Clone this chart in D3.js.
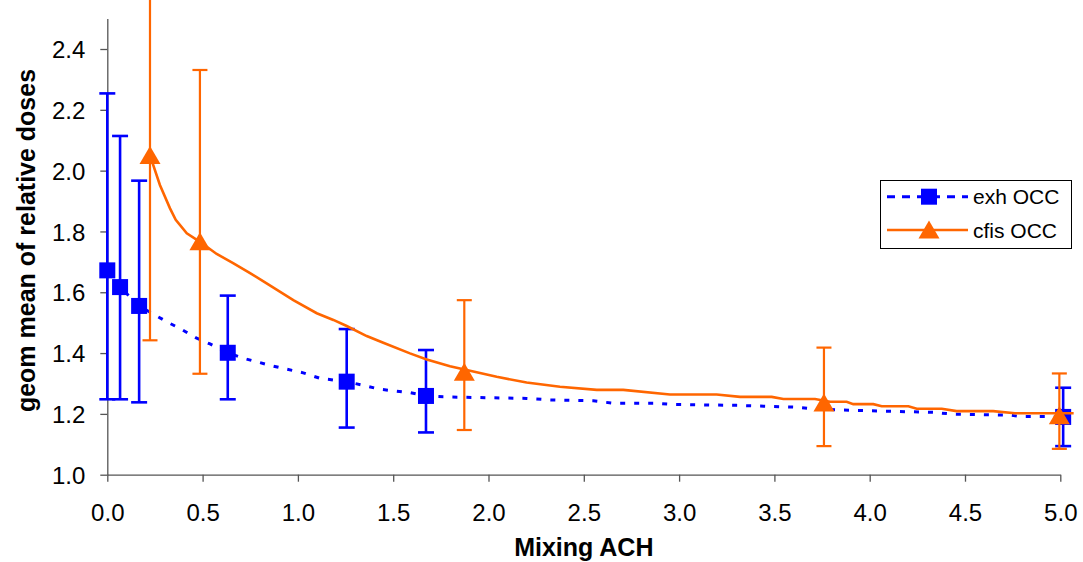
<!DOCTYPE html>
<html>
<head>
<meta charset="utf-8">
<script src="https://cdn.jsdelivr.net/npm/d3@7/dist/d3.min.js"></script>
<style>
  html, body { margin: 0; padding: 0; background: #fff; }
  svg { display: block; font-family: "Liberation Sans", Arial, sans-serif; }
</style>
</head>
<body>
<svg id="chart" width="1083" height="562"></svg>
<script>
// ---- data ----
const xTicks = [0.0, 0.5, 1.0, 1.5, 2.0, 2.5, 3.0, 3.5, 4.0, 4.5, 5.0];
const yTicks = [1.0, 1.2, 1.4, 1.6, 1.8, 2.0, 2.2, 2.4];
const seriesNames = ["exh OCC", "cfis OCC"];

// exh OCC dense line
const exhLineX = [0, 0.067, 0.167, 0.312, 0.390, 0.469, 0.539, 0.632, 0.714, 0.871, 1.028, 1.116, 1.256, 1.335, 1.431, 1.588, 1.672, 1.763, 2.008, 2.200, 2.322, 2.550, 2.655, 2.882, 2.970, 3.302, 3.617, 3.687, 3.844, 4.334, 4.439, 4.736, 4.789, 4.962, 5.015];
const exhLineY = [1.672, 1.617, 1.555, 1.503, 1.478, 1.449, 1.430, 1.401, 1.383, 1.357, 1.335, 1.317, 1.306, 1.295, 1.281, 1.270, 1.259, 1.256, 1.253, 1.251, 1.246, 1.243, 1.235, 1.235, 1.231, 1.228, 1.222, 1.218, 1.213, 1.205, 1.199, 1.196, 1.191, 1.191, 1.190];
// exh OCC markers with error bars
const exhMarkX = [0, 0.067, 0.167, 0.632, 1.256, 1.672, 5.015];
const exhMarkY = [1.672, 1.617, 1.555, 1.401, 1.306, 1.259, 1.190];
const exhErrLo = [1.248, 1.248, 1.238, 1.248, 1.155, 1.139, 1.094];
const exhErrHi = [2.254, 2.114, 1.967, 1.589, 1.479, 1.410, 1.286];

// cfis OCC dense line
const cfisLineX = [0.224, 0.276, 0.329, 0.359, 0.417, 0.486, 0.574, 0.660, 0.749, 0.836, 0.976, 1.099, 1.186, 1.256, 1.361, 1.448, 1.588, 1.676, 1.798, 2.043, 2.200, 2.375, 2.568, 2.707, 2.952, 3.197, 3.320, 3.486, 3.547, 3.713, 3.792, 3.879, 3.914, 4.019, 4.063, 4.203, 4.247, 4.378, 4.456, 4.648, 4.762, 5.0, 5.07];
const cfisLineY = [2.050, 1.953, 1.876, 1.838, 1.794, 1.766, 1.726, 1.696, 1.663, 1.629, 1.574, 1.531, 1.509, 1.489, 1.456, 1.434, 1.399, 1.379, 1.357, 1.322, 1.303, 1.289, 1.279, 1.279, 1.264, 1.264, 1.256, 1.256, 1.249, 1.249, 1.240, 1.240, 1.232, 1.232, 1.225, 1.225, 1.217, 1.217, 1.209, 1.209, 1.202, 1.202, 1.202];
// cfis OCC markers with error bars
const cfisMarkX = [0.224, 0.486, 1.873, 3.760, 4.995];
const cfisMarkY = [2.050, 1.766, 1.337, 1.236, 1.194];
const cfisErrLo = [1.442, 1.332, 1.147, 1.094, 1.085];
const cfisErrHi = [2.900, 2.331, 1.574, 1.418, 1.333];

// ---- layout ----
const BLUE = "#0000FF", ORANGE = "#FF6600";
const svg = d3.select("#chart");
const x = d3.scaleLinear().domain([0, 5]).range([107.3, 1060.3]);
const y = d3.scaleLinear().domain([1.0, 2.5]).range([474.7, 18.6]);

// axes
const xAxis = d3.axisBottom(x).tickValues(xTicks).tickFormat(d3.format(".1f")).tickSizeInner(7).tickSizeOuter(0).tickPadding(0);
const yAxis = d3.axisLeft(y).tickValues(yTicks).tickFormat(d3.format(".1f")).tickSizeInner(7).tickSizeOuter(0).tickPadding(0);

const gx = svg.append("g").attr("transform", `translate(0,${y(1.0)})`).call(xAxis);
const gy = svg.append("g").attr("transform", `translate(${x(0)},0)`).call(yAxis);
[gx, gy].forEach(g => {
  g.select(".domain").attr("stroke", "#555").attr("stroke-width", 1.3);
  g.selectAll(".tick line").attr("stroke", "#555").attr("stroke-width", 1.3);
  g.selectAll(".tick text").attr("fill", "#000").attr("font-size", 24)
    .attr("font-family", "'Liberation Sans', Arial, sans-serif");
});
gx.selectAll(".tick text").attr("y", 46).attr("dy", 0);
gy.selectAll(".tick text").attr("x", -22).attr("dy", "0.36em");

// titles
svg.append("text").attr("x", 583.8).attr("y", 556).attr("text-anchor", "middle")
  .attr("font-size", 25).attr("font-weight", "bold").text("Mixing ACH");
svg.append("text").attr("transform", "translate(35,240.5) rotate(-90)").attr("text-anchor", "middle")
  .attr("font-size", 25).attr("font-weight", "bold").text("geom mean of relative doses");

// line generators
const line = d3.line().x(d => x(d[0])).y(d => y(d[1]));
const exhLine = exhLineX.map((v, i) => [v, exhLineY[i]]);
const cfisLine = cfisLineX.map((v, i) => [v, cfisLineY[i]]);

// ---- exh OCC ----
svg.append("path").attr("d", line(exhLine)).attr("fill", "none")
  .attr("stroke", BLUE).attr("stroke-width", 3).attr("stroke-dasharray", "5,9");
const exhG = svg.append("g");
exhMarkX.forEach((xv, i) => {
  const cx = x(xv);
  exhG.append("line").attr("x1", cx).attr("x2", cx).attr("y1", y(exhErrLo[i])).attr("y2", y(exhErrHi[i]))
    .attr("stroke", BLUE).attr("stroke-width", 2.6);
  [exhErrLo[i], exhErrHi[i]].forEach(v => {
    exhG.append("line").attr("x1", cx - 8).attr("x2", cx + 8).attr("y1", y(v)).attr("y2", y(v))
      .attr("stroke", BLUE).attr("stroke-width", 2.6);
  });
});
exhMarkX.forEach((xv, i) => {
  exhG.append("rect").attr("x", x(xv) - 8).attr("y", y(exhMarkY[i]) - 8)
    .attr("width", 16).attr("height", 16).attr("fill", BLUE);
});

// ---- cfis OCC ----
svg.append("path").attr("d", line(cfisLine)).attr("fill", "none")
  .attr("stroke", ORANGE).attr("stroke-width", 2.6);
const cfisG = svg.append("g");
const tri = (cx, cy) => `M${cx},${cy - 9.5}L${cx + 10.5},${cy + 8.5}L${cx - 10.5},${cy + 8.5}Z`;
cfisMarkX.forEach((xv, i) => {
  const cx = x(xv);
  cfisG.append("line").attr("x1", cx).attr("x2", cx).attr("y1", y(cfisErrLo[i])).attr("y2", y(cfisErrHi[i]))
    .attr("stroke", ORANGE).attr("stroke-width", 2.2);
  [cfisErrLo[i], cfisErrHi[i]].forEach(v => {
    cfisG.append("line").attr("x1", cx - 7.5).attr("x2", cx + 7.5).attr("y1", y(v)).attr("y2", y(v))
      .attr("stroke", ORANGE).attr("stroke-width", 2.2);
  });
});
cfisMarkX.forEach((xv, i) => {
  cfisG.append("path").attr("d", tri(x(xv), y(cfisMarkY[i]))).attr("fill", ORANGE);
});

// ---- legend ----
const lg = svg.append("g");
lg.append("rect").attr("x", 880.5).attr("y", 180.5).attr("width", 191).attr("height", 68)
  .attr("fill", "#fff").attr("stroke", "#000").attr("stroke-width", 1);
const rows = [196.7, 230];
// exh
lg.append("line").attr("x1", 887).attr("x2", 968).attr("y1", rows[0]).attr("y2", rows[0])
  .attr("stroke", BLUE).attr("stroke-width", 3).attr("stroke-dasharray", "8,7");
lg.append("rect").attr("x", 929 - 8).attr("y", rows[0] - 8).attr("width", 16).attr("height", 16).attr("fill", BLUE);
// cfis
lg.append("line").attr("x1", 887).attr("x2", 968).attr("y1", rows[1]).attr("y2", rows[1])
  .attr("stroke", ORANGE).attr("stroke-width", 2.6);
lg.append("path").attr("d", tri(929, rows[1])).attr("fill", ORANGE);
seriesNames.forEach((n, i) => {
  lg.append("text").attr("x", 973).attr("y", rows[i]).attr("dy", "0.36em")
    .attr("font-size", 21).attr("fill", "#000").text(n);
});
</script>
</body>
</html>
